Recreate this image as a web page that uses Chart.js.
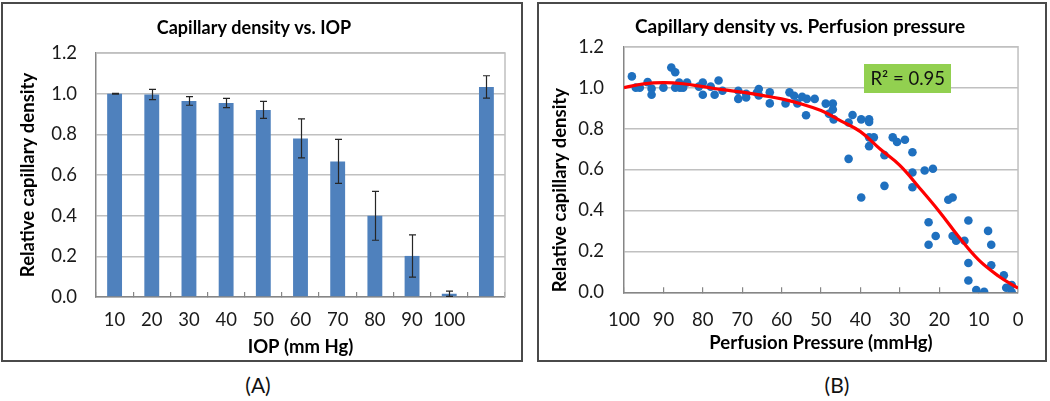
<!DOCTYPE html>
<html>
<head>
<meta charset="utf-8">
<script src="https://cdn.jsdelivr.net/npm/chart.js@4.4.1/dist/chart.umd.min.js"></script>
<style>
  html, body { margin:0; padding:0; background:#fff; width:1050px; height:401px; overflow:hidden; font-family: Lato, sans-serif; }
  .box { position:absolute; border:2px solid #4a4a4a; box-sizing:border-box; }
  #boxA { left:1px; top:2px; width:522px; height:360px; }
  #boxB { left:537px; top:2px; width:510px; height:360px; }
  canvas { position:absolute; }
  #cA { left:3px; top:4px; }
  #cB { left:539px; top:4px; }
  .cap { position:absolute; font-family: Lato, sans-serif; font-size:21px; color:#111; transform:translate(-50%,-50%); white-space:nowrap; }
</style>
</head>
<body>
<div class="box" id="boxA"></div>
<div class="box" id="boxB"></div>
<canvas id="cA" width="517" height="356"></canvas>
<canvas id="cB" width="506" height="356"></canvas>
<div class="cap" style="left:258px; top:384px;">(A)</div>
<div class="cap" style="left:837px; top:384px;">(B)</div>
<script>
// ---------- Panel A data ----------
const iopLabels      = ['10','20','30','40','50','60','70','80','90','100',''];
const densityMeans   = [1.000, 0.996, 0.964, 0.954, 0.920, 0.780, 0.667, 0.399, 0.202, 0.016, 1.033];
const densityErrors  = [0.002, 0.025, 0.021, 0.023, 0.042, 0.096, 0.108, 0.120, 0.104, 0.013, 0.055];

// ---------- Panel B data ----------
const perfusionPressure = [98, 97, 96, 94, 93, 93, 90, 88, 87, 87, 86, 85.8, 85, 84, 81, 80, 80, 78, 77, 76, 75,
  71, 71, 69, 69, 66.3, 65.8, 65.8, 63, 63, 59, 58, 56.8, 56, 54.8, 53.8, 53.6, 51.6,
  48.8, 48, 47, 47, 46.8, 43, 43, 42, 39.8, 39.8, 37.8, 37.8, 37.8, 37.8, 36.6, 33.9, 33.9,
  31.8, 30.7, 28.7, 26.8, 26.8, 26.8, 23.7, 21.6, 22.7, 22.7, 20.9, 17.7, 16.6, 16.6, 15.7,
  13.6, 12.6, 12.6, 12.6, 10.6, 8.6, 7.6, 6.8, 6.8, 3.6, 3.0, 1.6, 1.6];
const capillaryDensity = [1.055, 1.0, 1.0, 1.027, 0.995, 0.965, 1.0, 1.098, 1.075, 1.0, 1.025, 1.0, 1.0, 1.025, 1.005, 1.025, 0.965, 1.005, 0.965, 1.035, 0.985,
  0.985, 0.945, 0.970, 0.952, 0.975, 0.993, 0.962, 0.977, 0.923, 0.923, 0.977, 0.960, 0.923, 0.955, 0.865, 0.945, 0.945,
  0.922, 0.872, 0.922, 0.893, 0.845, 0.830, 0.652, 0.866, 0.845, 0.463, 0.845, 0.832, 0.757, 0.714, 0.757, 0.670, 0.520,
  0.757, 0.734, 0.745, 0.684, 0.585, 0.513, 0.595, 0.604, 0.342, 0.232, 0.275, 0.452, 0.463, 0.275, 0.252,
  0.252, 0.351, 0.143, 0.058, 0.011, 0.002, 0.300, 0.232, 0.132, 0.083, 0.022, 0.036, 0.000];
const fitPressure = [100, 95, 90, 85, 80, 75, 70, 65, 60, 55, 50, 45, 40, 35, 30, 25, 20, 15, 10, 5, 0];
const fitDensity  = [1.000, 1.018, 1.024, 1.019, 1.005, 0.990, 0.978, 0.962, 0.945, 0.920, 0.888, 0.838, 0.785, 0.700, 0.620, 0.510, 0.395, 0.270, 0.158, 0.080, 0.020];
const r2Text = 'R² = 0.95';
const r2Anchor = { x: 28, y: 1.045 };   // where the fit label sits, in data units

// ---------- shared styling ----------
const FONT = 'Lato';
const tickFont = { family: FONT, size: 18.5 };
const axisTitleFont = { family: FONT, size: 18.5, weight: 'bold' };
const titleFontA = { family: FONT, size: 18, weight: 'bold' };
const titleFontB = { family: FONT, size: 19, weight: 'bold' };
const gridCol = '#c0c0c0';
const axisCol = '#868686';
const textCol = '#1a1a1a';

const framePlugin = {
  id: 'frame',
  beforeDatasetsDraw(chart) {
    const { ctx, chartArea: a } = chart;
    ctx.save();
    ctx.strokeStyle = gridCol;
    ctx.lineWidth = 1.5;
    ctx.beginPath();
    ctx.moveTo(a.left, a.top); ctx.lineTo(a.right, a.top); ctx.lineTo(a.right, a.bottom);
    ctx.stroke();
    ctx.restore();
  }
};

const errorBarPlugin = {
  id: 'errorBars',
  afterDatasetsDraw(chart) {
    const meta = chart.getDatasetMeta(0);
    const y = chart.scales.y;
    const ctx = chart.ctx;
    ctx.save();
    ctx.strokeStyle = '#262626';
    ctx.lineWidth = 1.2;
    meta.data.forEach((bar, i) => {
      const v = densityMeans[i], e = densityErrors[i];
      const top = y.getPixelForValue(v + e);
      const bot = y.getPixelForValue(Math.max(0, v - e));
      const x = Math.round(bar.x) + 0.5;
      ctx.beginPath();
      ctx.moveTo(x, top); ctx.lineTo(x, bot);
      ctx.moveTo(x - 3.5, top); ctx.lineTo(x + 3.5, top);
      ctx.moveTo(x - 3.5, bot); ctx.lineTo(x + 3.5, bot);
      ctx.stroke();
    });
    ctx.restore();
  }
};

const r2Plugin = {
  id: 'r2Label',
  afterDatasetsDraw(chart) {
    const ctx = chart.ctx;
    const px = chart.scales.x.getPixelForValue(r2Anchor.x);
    const py = chart.scales.y.getPixelForValue(r2Anchor.y);
    ctx.save();
    ctx.font = '18.5px ' + FONT;
    const w = ctx.measureText(r2Text).width + 12;
    const h = 29;
    ctx.fillStyle = '#92d050';
    ctx.fillRect(Math.round(px - w / 2), Math.round(py - h / 2), Math.round(w), h);
    ctx.fillStyle = '#111';
    ctx.textAlign = 'center';
    ctx.textBaseline = 'middle';
    ctx.fillText(r2Text, px, py + 1);
    ctx.restore();
  }
};

// ---------- Chart A ----------
new Chart(document.getElementById('cA'), {
  type: 'bar',
  data: {
    labels: iopLabels,
    datasets: [{
      data: densityMeans,
      backgroundColor: '#4f81bd',
      borderWidth: 0,
      barPercentage: 0.40,
      categoryPercentage: 1.0
    }]
  },
  options: {
    responsive: false,
    animation: false,
    devicePixelRatio: 1,
    layout: { padding: { left: 0, right: 15, top: 0, bottom: 0 } },
    plugins: {
      legend: { display: false },
      tooltip: { enabled: false },
      title: { display: true, text: 'Capillary density vs. IOP', font: titleFontA, color: '#000', padding: { top: 13.2, bottom: 14.2 } }
    },
    scales: {
      x: {
        grid: { display: true, drawOnChartArea: false, drawTicks: true, tickLength: -5, color: axisCol, lineWidth: 1.2, offset: true },
        border: { color: axisCol, width: 1.5 },
        ticks: { padding: 16.9, font: tickFont, color: textCol, maxRotation: 0, autoSkip: false },
        title: { display: true, text: 'IOP (mm Hg)', font: axisTitleFont, color: '#000', padding: { top: 0, bottom: 1.9 } },
        afterFit(s) { s.height = 63; }
      },
      y: {
        min: 0, max: 1.2,
        ticks: { stepSize: 0.2, callback: v => Number(v).toFixed(1), padding: 19, font: tickFont, color: textCol },
        grid: { color: gridCol, lineWidth: 1.5, drawTicks: false },
        border: { color: axisCol, width: 1.5 },
        title: { display: true, text: 'Relative capillary density', font: axisTitleFont, color: '#000', padding: { top: 13.9, bottom: 0 } },
        afterFit(s) { s.width = 93; }
      }
    }
  },
  plugins: [framePlugin, errorBarPlugin]
});

// ---------- Chart B ----------
new Chart(document.getElementById('cB'), {
  type: 'scatter',
  data: {
    datasets: [
      {
        label: 'fit',
        data: fitPressure.map((p, i) => ({ x: p, y: fitDensity[i] })),
        showLine: true,
        borderColor: '#ff0000',
        borderWidth: 3.2,
        pointRadius: 0,
        tension: 0.4,
        order: 0
      },
      {
        label: 'measured',
        data: perfusionPressure.map((p, i) => ({ x: p, y: capillaryDensity[i] })),
        backgroundColor: '#1f70bf',
        borderWidth: 0,
        pointRadius: 4.3,
        order: 1
      }
    ]
  },
  options: {
    responsive: false,
    animation: false,
    devicePixelRatio: 1,
    layout: { padding: { left: 34, right: 18, top: 0, bottom: 0 } },
    plugins: {
      legend: { display: false },
      tooltip: { enabled: false },
      title: { display: true, text: 'Capillary density vs. Perfusion pressure', font: titleFontB, color: '#000', padding: { top: 11.6, bottom: 8.3 } }
    },
    scales: {
      x: {
        type: 'linear', min: 0, max: 100, reverse: true,
        grid: { display: true, drawOnChartArea: false, drawTicks: true, tickLength: -5, color: axisCol, lineWidth: 1.2 },
        border: { color: axisCol, width: 1.5 },
        ticks: { stepSize: 10, padding: 21.6, font: tickFont, color: textCol, maxRotation: 0 },
        title: { display: true, text: 'Perfusion Pressure (mmHg)', font: axisTitleFont, color: '#000', padding: { top: 0, bottom: 5.9 } },
        afterFit(s) { s.height = 67.7; }
      },
      y: {
        min: 0, max: 1.2,
        ticks: { stepSize: 0.2, callback: v => Number(v).toFixed(1), padding: 20, font: tickFont, color: textCol },
        grid: { color: gridCol, lineWidth: 1.5, drawTicks: false },
        border: { color: axisCol, width: 1.5 },
        title: { display: true, text: 'Relative capillary density', align: 'start', font: axisTitleFont, color: '#000', padding: { top: -24.1, bottom: 0 } },
        afterFit(s) { s.width = 51; }
      }
    }
  },
  plugins: [framePlugin, r2Plugin]
});
</script>
</body>
</html>
